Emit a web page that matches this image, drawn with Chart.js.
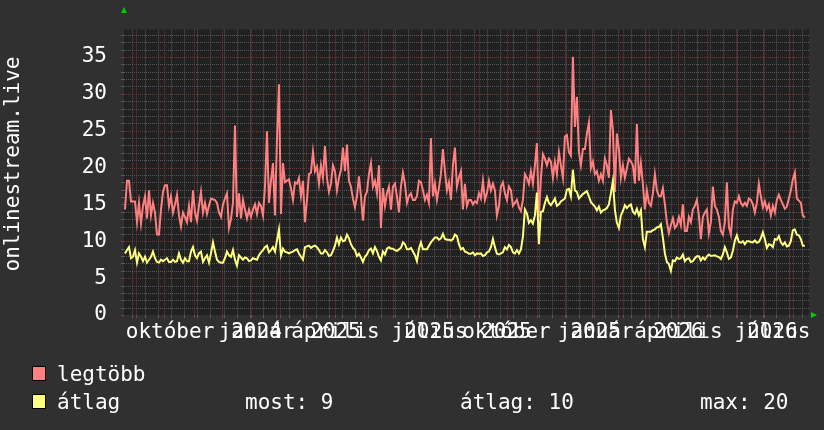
<!DOCTYPE html>
<html><head><meta charset="utf-8">
<script src="https://cdn.jsdelivr.net/npm/chart.js@4/dist/chart.umd.min.js"></script>
<style>html,body{margin:0;padding:0;background:#303030;overflow:hidden}#wrap{width:824px;height:430px}</style>
</head><body><div id="wrap"><canvas id="c" width="824" height="430"></canvas></div>
<script>
// ---- data ----
const maxValues = [
14.3,18.2,18.2,15.4,15.4,15.4,12.6,15.2,12.4,14.8,
16.1,13.1,16.9,13.5,15.2,13.9,10.9,10.9,14.3,16.7,
17.6,17.6,14.8,16.1,13.9,15.0,16.3,13.5,12.0,13.9,
13.3,12.6,14.8,12.6,16.9,13.9,12.8,14.8,16.7,13.9,
15.2,13.7,14.8,15.8,15.7,15.6,15.2,13.9,13.3,15.0,
15.8,16.5,11.8,13.0,15.2,25.7,13.3,16.5,13.1,15.6,
14.3,13.1,14.3,13.3,14.3,15.0,13.7,15.2,14.8,13.5,
17.4,24.9,15.2,18.2,20.6,13.5,23.8,31.3,13.7,20.6,
18.0,18.2,18.4,17.2,15.6,18.0,17.8,18.6,16.1,18.2,
12.6,15.6,19.1,19.3,22.1,19.5,20.1,17.8,20.3,18.6,
22.9,18.6,16.7,17.8,20.3,19.5,16.9,18.6,19.7,22.7,
19.5,23.1,18.2,17.4,15.8,14.6,16.1,18.8,16.1,12.8,
16.1,16.7,19.1,20.6,17.4,18.2,16.5,20.3,11.8,17.2,
14.8,16.5,17.4,14.3,17.4,17.8,16.1,13.9,17.4,19.3,
17.8,15.2,16.1,16.5,15.6,15.6,16.1,18.2,18.0,16.9,
15.6,16.3,15.2,24.0,16.1,17.8,15.6,17.2,19.1,22.5,
19.5,16.9,18.0,15.6,20.3,22.7,17.4,18.6,19.5,14.3,
17.8,14.8,15.6,15.6,15.0,15.4,15.2,16.5,15.8,18.2,
15.6,16.5,18.2,16.9,17.8,16.9,13.5,14.8,17.4,18.0,
16.5,15.6,17.4,16.9,14.8,15.2,15.6,14.6,14.1,15.6,
19.1,18.6,17.8,19.5,17.8,20.3,23.3,13.3,18.6,21.8,
21.2,20.3,21.2,20.8,18.6,20.8,19.1,22.1,20.3,18.6,
24.2,24.4,22.1,21.6,35.0,25.5,29.6,22.1,20.3,22.5,
22.5,24.6,26.1,19.9,20.8,19.1,19.5,18.2,19.1,18.2,
21.2,20.3,18.6,27.8,25.1,16.7,24.6,22.5,18.6,20.3,
18.6,19.9,21.2,20.8,20.3,17.8,25.9,18.2,20.6,17.8,
14.3,16.9,15.2,14.8,16.5,19.1,16.9,16.1,16.1,17.2,
15.0,12.6,11.1,12.2,13.1,11.8,12.2,13.3,12.2,15.0,
11.4,11.4,13.3,12.6,14.3,14.8,15.6,13.5,10.3,13.3,
13.9,14.3,11.1,12.6,17.4,14.8,14.3,13.3,11.4,10.9,
12.6,18.0,12.0,10.9,14.3,15.4,15.2,16.1,15.2,14.8,
15.2,14.8,15.8,15.6,15.0,13.9,15.2,17.8,16.1,14.6,
15.4,14.3,15.0,13.5,14.8,13.9,15.6,16.3,15.6,15.0,
14.4,14.7,15.8,16.9,18.4,19.3,15.8,15.5,15.2,13.5,13.2];
const avgValues = [
8.35,8.8,9.2,7.7,7.9,8.8,7.1,8.35,7.9,7.3,
7.9,7.1,7.5,7.9,8.6,7.7,7.2,7.1,7.5,7.3,
7.5,7.7,7.2,7.2,7.5,7.2,7.3,8.35,7.5,7.1,
7.7,7.3,7.3,8.6,9.2,8.1,7.7,8.35,8.6,7.2,
7.7,8.1,7.1,8.35,9.85,8.6,7.5,7.2,7.1,7.1,
7.7,8.6,8.1,7.9,8.8,7.5,6.7,8.1,7.8,7.5,
7.8,7.7,7.3,7.4,7.7,7.6,7.5,8.1,8.5,8.8,
9.2,9.4,8.5,8.8,9.2,8.6,10.1,11.6,8.1,9.0,
8.6,8.5,8.35,8.5,8.6,8.8,8.9,8.35,7.9,7.5,
9.2,9.3,9.4,9.1,9.3,9.4,9.2,8.8,8.35,8.35,
8.8,8.5,8.0,8.1,8.7,9.4,10.5,9.6,10.5,10.0,
10.1,10.9,10.4,9.6,9.1,8.8,8.0,8.3,7.8,7.2,
7.9,8.2,8.8,9.0,8.35,9.2,8.7,7.9,7.4,8.6,
8.2,9.0,9.2,9.0,9.0,8.8,8.7,8.9,9.1,9.85,
9.6,8.9,8.9,9.1,8.6,8.1,7.3,9.0,9.85,8.9,
8.9,8.9,9.4,9.85,10.2,10.5,10.5,10.2,10.4,11.0,
10.3,10.2,10.2,10.1,10.3,10.9,10.7,9.6,8.9,9.1,
8.6,8.5,8.3,8.3,8.5,8.1,8.35,8.3,8.35,8.0,
8.1,8.5,8.6,9.2,10.3,9.2,8.3,8.2,8.35,8.5,
9.2,8.9,9.5,9.2,8.5,8.35,8.8,8.35,8.9,10.6,
14.3,13.8,12.5,12.85,12.4,13.5,16.6,9.6,14.0,14.05,
15.2,16.0,15.2,14.9,15.3,15.8,14.8,15.0,15.4,15.6,
15.8,17.0,17.1,16.1,19.7,16.9,16.7,15.8,16.1,16.4,
16.6,16.8,16.1,15.3,15.0,14.7,14.2,14.7,13.9,14.2,
14.3,14.5,15.0,16.5,18.2,14.3,12.5,11.8,13.5,14.1,
14.9,14.5,14.8,15.0,14.0,13.7,14.4,13.5,14.2,10.3,
9.2,11.3,11.3,11.3,11.5,11.6,11.9,11.9,12.3,10.5,
8.35,7.2,6.9,6.0,7.4,7.3,7.8,7.6,7.7,8.2,
7.3,7.6,7.7,7.2,7.3,7.7,7.95,7.95,7.4,7.8,
7.5,7.95,8.2,8.0,8.05,8.1,7.95,7.85,7.6,8.2,
9.2,8.5,7.6,7.8,8.7,10.1,10.8,9.9,9.8,10.0,
9.6,10.0,10.0,9.9,9.85,10.1,9.8,9.9,10.4,11.2,
10.3,9.1,9.6,9.5,9.2,10.3,10.2,10.7,9.85,9.5,
9.85,9.3,9.4,10.0,11.5,11.6,10.9,10.8,10.3,9.4,9.4];
const seriesNames = ['legtöbb', 'átlag'];
const monthLabels = ['október','január','április','július','október','január','április','július'];
const yearLabels  = ['', '2024','2025','2025','2025','2025','2026','2026'];
const labelDays   = [49, 141, 225, 325, 407, 502, 590, 690];   // days from start of graph
const yTicks = [0,5,10,15,20,25,30,35];
const statLabels = ['most: 9', 'átlag: 10', 'max: 20'];
const axisTitle = 'onlinestream.live';
const SPAN_DAYS = 729, DATA_START_DAY = 1.06, STEP_DAYS = 2.128, Y_MAX = 38.7;

// ---- styling ----
const FONT = '"DejaVu Sans Mono", monospace';
const RED = '#ff8080', YEL = '#ffff80';

function monthStarts(){
  const base = Date.UTC(2024,7,19); const out=[];
  for(let y=2024,m=8; ; m++){ if(m>11){m=0;y++;} const d=(Date.UTC(y,m,1)-base)/86400000; if(d>SPAN_DAYS) break; out.push(d); }
  return out;
}
const MONTH_DAYS = monthStarts();

const bgPlugin = {
  id:'bg',
  beforeDraw(chart){
    const {ctx, chartArea:a} = chart; const xs=chart.scales.x, ys=chart.scales.y;
    ctx.save();
    ctx.fillStyle='#303030'; ctx.fillRect(0,0,chart.width,chart.height);
    ctx.fillStyle='#212121'; ctx.fillRect(a.left,a.top,a.right-a.left,a.bottom-a.top);
    ctx.lineWidth=1; ctx.setLineDash([1,1]);
    for(let v=1; v<Y_MAX; v++){
      const y=Math.round(ys.getPixelForValue(v))+0.5;
      ctx.strokeStyle = v%5===0 ? '#7a3434' : '#575757';
      ctx.beginPath(); ctx.moveTo(a.left,y); ctx.lineTo(a.right,y); ctx.stroke();
    }
    for(let d=8; d<SPAN_DAYS; d+=14){
      const x=Math.round(xs.getPixelForValue(d))+0.5;
      ctx.strokeStyle='#575757'; ctx.beginPath(); ctx.moveTo(x,a.top); ctx.lineTo(x,a.bottom); ctx.stroke();
    }
    MONTH_DAYS.forEach(d=>{
      const x=Math.round(xs.getPixelForValue(d))+0.5;
      ctx.strokeStyle='#7a3434'; ctx.beginPath(); ctx.moveTo(x,a.top); ctx.lineTo(x,a.bottom); ctx.stroke();
    });
    ctx.setLineDash([]);
    for(let v=0; v<Y_MAX; v++){
      const y=Math.round(ys.getPixelForValue(v))+0.5;
      ctx.strokeStyle = v%5===0 ? '#8a3a3a' : '#5a5a5a';
      ctx.beginPath(); ctx.moveTo(a.left-3,y); ctx.lineTo(a.left,y); ctx.stroke();
    }
    for(let d=8; d<SPAN_DAYS; d+=14){
      const x=Math.round(xs.getPixelForValue(d))+0.5;
      ctx.strokeStyle='#5a5a5a'; ctx.beginPath(); ctx.moveTo(x,a.bottom); ctx.lineTo(x,a.bottom+3); ctx.stroke();
    }
    MONTH_DAYS.forEach(d=>{
      const x=Math.round(xs.getPixelForValue(d))+0.5;
      ctx.strokeStyle='#8a3a3a'; ctx.beginPath(); ctx.moveTo(x,a.bottom); ctx.lineTo(x,a.bottom+3); ctx.stroke();
    });
    ctx.restore();
  },
  afterDraw(chart){
    const {ctx, chartArea:a} = chart; const xs=chart.scales.x;
    ctx.save();
    ctx.fillStyle='#00cc00';
    ctx.beginPath(); ctx.moveTo(a.left-3,13); ctx.lineTo(a.left+3,13); ctx.lineTo(a.left,7); ctx.closePath(); ctx.fill();
    ctx.beginPath(); ctx.moveTo(a.right+2,a.bottom-3); ctx.lineTo(a.right+2,a.bottom+3); ctx.lineTo(a.right+8,a.bottom); ctx.closePath(); ctx.fill();
    ctx.fillStyle='#ffffff'; ctx.font='21px '+FONT; ctx.textAlign='center'; ctx.textBaseline='alphabetic';
    labelDays.forEach((d,i)=>{
      const x=xs.getPixelForValue(d);
      ctx.fillText(monthLabels[i], x, 338);
      if(yearLabels[i]) ctx.fillText(yearLabels[i], x, 338);
    });
    ctx.save(); ctx.translate(19,164); ctx.rotate(-Math.PI/2);
    ctx.textAlign='center'; ctx.textBaseline='alphabetic'; ctx.fillText(axisTitle,0,0); ctx.restore();
    ctx.textAlign='left';
    const rows=[[RED,366,381],[YEL,394,409]];
    rows.forEach((r,i)=>{
      ctx.fillStyle=r[0]; ctx.fillRect(32,r[1],14,15);
      ctx.strokeStyle='#000'; ctx.lineWidth=1; ctx.strokeRect(32.5,r[1]+0.5,13,14);
      ctx.fillStyle='#fff'; ctx.fillText(seriesNames[i],57,r[2]);
    });
    ctx.fillText(statLabels[0],245,409);
    ctx.fillText(statLabels[1],460,409);
    ctx.fillText(statLabels[2],700,409);
    ctx.restore();
  }
};

const toPts = arr => arr.map((v,i)=>({x: DATA_START_DAY + i*STEP_DAYS, y: v}));

new Chart(document.getElementById('c'), {
  type:'line',
  data:{datasets:[
    {label:seriesNames[0], data:toPts(maxValues), borderColor:RED, borderWidth:2, pointRadius:0, tension:0, order:2},
    {label:seriesNames[1], data:toPts(avgValues), borderColor:YEL, borderWidth:2, pointRadius:0, tension:0, order:1}
  ]},
  options:{
    responsive:false, animation:false, events:[],
    layout:{padding:{top:14,right:15,bottom:115,left:0}},
    plugins:{legend:{display:false}, tooltip:{enabled:false}},
    scales:{
      x:{type:'linear', min:0, max:SPAN_DAYS, display:false},
      y:{min:0, max:Y_MAX,
         afterBuildTicks:s=>{s.ticks=yTicks.map(v=>({value:v}));},
         afterFit:s=>{s.width=124;},
         grid:{display:false, drawTicks:false}, border:{display:false},
         ticks:{color:'#ffffff', font:{family:FONT,size:21}, padding:17}}
    }
  },
  plugins:[bgPlugin]
});
</script></body></html>
